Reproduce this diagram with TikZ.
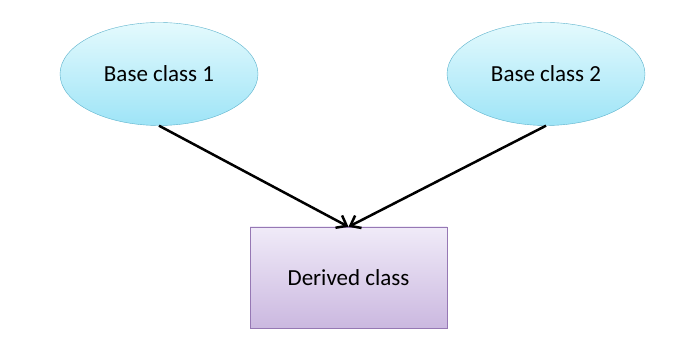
\documentclass[tikz,border=0pt]{standalone}
\usepackage{fontspec}
\setmainfont{Carlito}
\usetikzlibrary{positioning,arrows.meta,shapes.geometric}
\definecolor{baseline}{RGB}{92,178,204}
\definecolor{basetop}{RGB}{228,250,253}
\definecolor{basebot}{RGB}{158,228,247}
\definecolor{derline}{RGB}{150,120,180}
\definecolor{dertop}{RGB}{240,235,248}
\definecolor{derbot}{RGB}{203,184,224}

\begin{document}
\begin{tikzpicture}[x=1pt, y=1pt,
  base/.style={ellipse, draw=baseline, top color=basetop, bottom color=basebot,
               minimum width=198pt, minimum height=103pt, inner sep=0pt, font=\fontsize{23}{27}\selectfont},
  derived/.style={draw=derline, top color=dertop, bottom color=derbot,
                  minimum width=197pt, minimum height=101pt, inner sep=0pt, font=\fontsize{23}{27}\selectfont},
  arr/.style={-{Straight Barb[length=9pt, width=14pt, line width=2.5pt]}, line width=2.5pt, black}]
\useasboundingbox (0,0) rectangle (698,355);

\node[base] (b1) at (159,281) {Base class 1};
\node[base] (b2) at (546,281) {Base class 2};
\node[derived] (d) at (348.5,77.5) {Derived class};

\draw[arr] (b1.south) -- (d.north);
\draw[arr] (b2.south) -- (d.north);
\end{tikzpicture}
\end{document}
